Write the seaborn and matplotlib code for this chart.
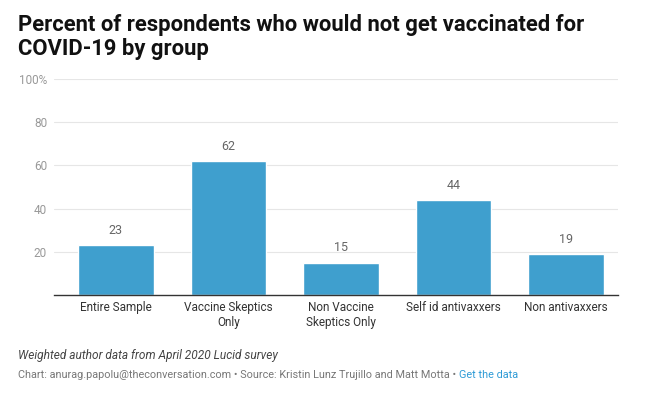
import matplotlib
matplotlib.use("Agg")
import matplotlib.pyplot as plt
import seaborn as sns

# Data
groups = ["Entire Sample", "Vaccine Skeptics\nOnly", "Non Vaccine\nSkeptics Only",
          "Self id antivaxxers", "Non antivaxxers"]
pct_not_vaccinated = [23, 62, 15, 44, 19]
y_ticks = [20, 40, 60, 80, 100]
y_tick_labels = ["20", "40", "60", "80", "100%"]

sns.set_style("white")
plt.rcParams["font.family"] = ["Roboto", "DejaVu Sans"]

fig = plt.figure(figsize=(6.55, 3.98), dpi=100)
ax = fig.add_axes([0.0824, 0.2588, 0.861, 0.5427])

sns.barplot(x=groups, y=pct_not_vaccinated, color="#3f9fce", saturation=1,
            width=0.67, ax=ax)
ax.bar_label(ax.containers[0], padding=6, fontsize=9, color="#666666")

ax.set_ylim(0, 100)
ax.set_yticks(y_ticks)
ax.set_yticklabels(y_tick_labels)
ax.yaxis.grid(True, color="#e6e6e6", linewidth=0.8)
ax.set_axisbelow(True)
for side in ["top", "right", "left"]:
    ax.spines[side].set_visible(False)
ax.spines["bottom"].set_color("#333333")
ax.spines["bottom"].set_linewidth(1)
ax.tick_params(axis="y", length=0, pad=5, labelsize=8.5, labelcolor="#999999")
ax.tick_params(axis="x", length=0, pad=4, labelsize=8.5, labelcolor="#333333")
ax.set_xlim(-0.55, 4.46)

# Title
fig.text(0.027, 0.965, "Percent of respondents who would not get vaccinated for\nCOVID-19 by group",
         fontsize=15.8, fontweight="bold", color="#111111", va="top", ha="left",
         linespacing=1.1)

# Footnotes
fig.text(0.027, 0.107, "Weighted author data from April 2020 Lucid survey",
         fontsize=8.6, style="italic", color="#444444", va="center")

fig.canvas.draw()
renderer = fig.canvas.get_renderer()
x = 0.027
pieces = [("Chart: anurag.papolu@theconversation.com \u2022 Source: Kristin Lunz Trujillo and Matt Motta \u2022 ", "#777777"),
          ("Get the data", "#2e9bd6")]
for txt, col in pieces:
    t = fig.text(x, 0.058, txt, fontsize=7.8, color=col, va="center")
    bb = t.get_window_extent(renderer=renderer)
    x += bb.width / fig.bbox.width

fig.savefig("out.png", dpi=100)
